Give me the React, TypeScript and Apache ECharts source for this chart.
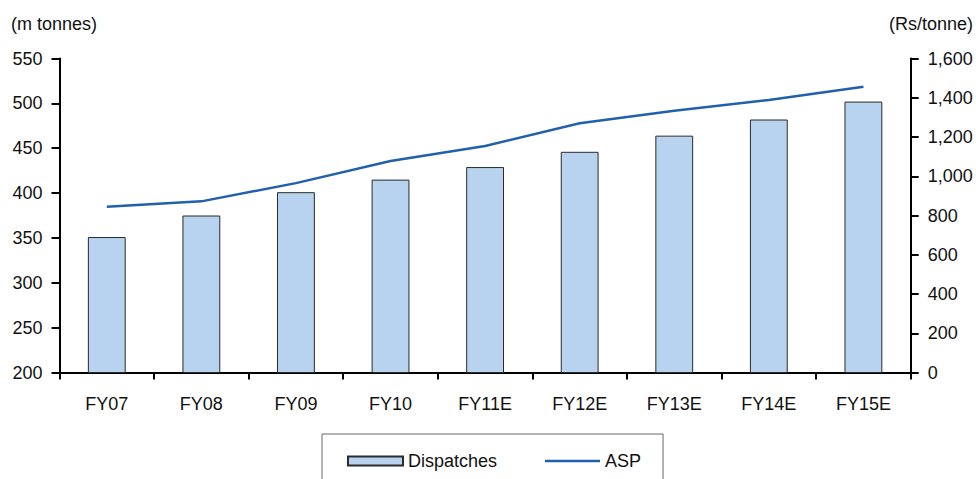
import React, { useEffect, useRef } from "react";
import * as echarts from "echarts";

// Fiscal years on the category axis
const categories = ["FY07", "FY08", "FY09", "FY10", "FY11E", "FY12E", "FY13E", "FY14E", "FY15E"];
// Dispatches, million tonnes (left axis)
const dispatches = [351, 375, 401, 415, 429, 446, 464, 482, 502];
// Average selling price, Rs per tonne (right axis)
const asp = [845, 872, 965, 1078, 1154, 1270, 1334, 1389, 1456];

const FONT = "'Liberation Sans', Arial, sans-serif";
const TEXT = "#111";
const LINE_COLOR = "#2160AC";

export default function App() {
  const ref = useRef<HTMLDivElement>(null);

  useEffect(() => {
    if (!ref.current) return;
    const chart = echarts.init(ref.current, undefined, { renderer: "svg" });
    const axisLine = { show: true, lineStyle: { color: "#000", width: 2 } };
    const axisTick = { show: true, inside: false, length: 8, lineStyle: { color: "#000", width: 2 } };
    chart.setOption({
      animation: false,
      textStyle: { fontFamily: FONT, color: TEXT },
      grid: { left: 59.5, right: 65.3, top: 58.5, bottom: 106.5, containLabel: false },
      xAxis: {
        type: "category",
        data: categories,
        boundaryGap: true,
        axisLine,
        axisTick: { ...axisTick, length: 7, alignWithLabel: false },
        axisLabel: { fontSize: 18, color: TEXT, fontFamily: FONT, margin: 22 },
        splitLine: { show: false },
      },
      yAxis: [
        {
          type: "value",
          min: 200,
          max: 550,
          interval: 50,
          position: "left",
          axisLine,
          axisTick,
          axisLabel: { fontSize: 18, color: TEXT, fontFamily: FONT, margin: 17 },
          splitLine: { show: false },
        },
        {
          type: "value",
          min: 0,
          max: 1600,
          interval: 200,
          position: "right",
          axisLine,
          axisTick,
          axisLabel: {
            fontSize: 18,
            color: TEXT,
            fontFamily: FONT,
            margin: 17,
            formatter: (v: number) => v.toLocaleString("en-US"),
          },
          splitLine: { show: false },
        },
      ],
      legend: {
        left: 322,
        top: 434,
        orient: "horizontal",
        itemWidth: 55,
        itemHeight: 9,
        itemGap: 48,
        padding: [18, 22, 18, 25],
        borderColor: "#666",
        borderWidth: 1,
        textStyle: { fontSize: 18, color: TEXT, fontFamily: FONT },
        data: [
          { name: "Dispatches", icon: "rect" },
          // plain stroke for the line series, no marker
          { name: "ASP", icon: "path://M0,0H55V2.5H0Z", itemStyle: { color: LINE_COLOR, borderWidth: 0 } },
        ],
      },
      graphic: [
        {
          type: "text",
          left: 11,
          top: 15,
          style: { text: "(m tonnes)", fontSize: 18, fill: TEXT, fontFamily: FONT },
        },
        {
          type: "text",
          right: 3,
          top: 15,
          style: { text: "(Rs/tonne)", fontSize: 18, fill: TEXT, fontFamily: FONT },
        },
      ],
      series: [
        {
          name: "Dispatches",
          type: "bar",
          yAxisIndex: 0,
          data: dispatches,
          barWidth: "40%",
          itemStyle: { color: "#B7D3EF", borderColor: "#2a2a2a", borderWidth: 1 },
        },
        {
          name: "ASP",
          type: "line",
          yAxisIndex: 1,
          data: asp,
          symbol: "none",
          lineStyle: { color: LINE_COLOR, width: 2.5 },
          itemStyle: { color: LINE_COLOR },
        },
      ],
    });
    return () => chart.dispose();
  }, []);

  return <div ref={ref} style={{ width: 976, height: 479, position: "absolute", left: 0, top: 0 }} />;
}
